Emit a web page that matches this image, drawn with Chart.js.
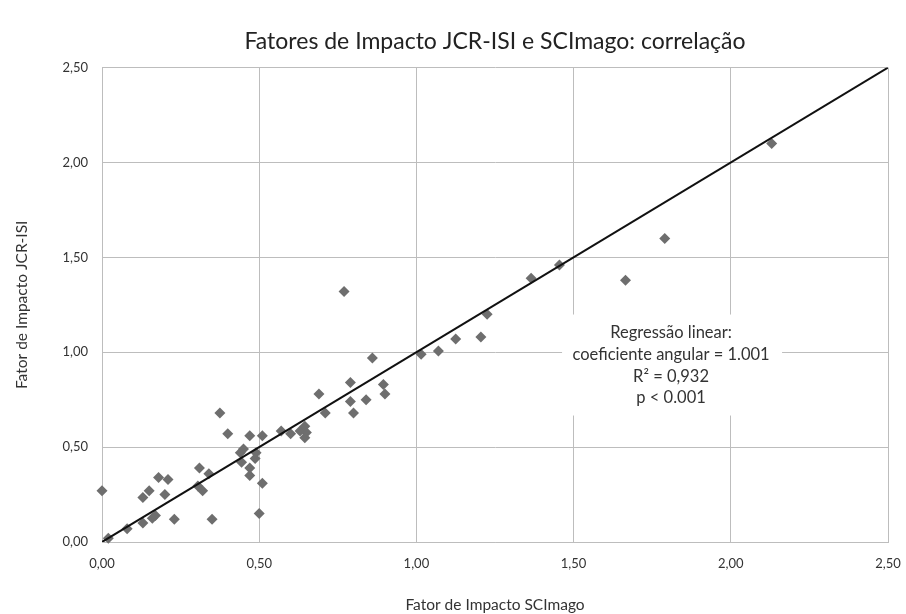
<!DOCTYPE html>
<html>
<head>
<meta charset="utf-8">
<title>Fatores de Impacto JCR-ISI e SCImago: correlação</title>
<script src="https://cdn.jsdelivr.net/npm/chart.js"></script>
<style>
  html, body { margin: 0; padding: 0; background: #fff; }
  canvas { display: block; }
</style>
</head>
<body>
<canvas id="chart" width="906" height="614"></canvas>
<script>
// SCImago impact factor (x) and JCR-ISI impact factor (y)
const scimago = [
  0.00, 0.02, 0.08, 0.13, 0.13, 0.15, 0.16, 0.17, 0.18, 0.20,
  0.21, 0.23, 0.31, 0.34, 0.305, 0.32, 0.35, 0.375, 0.40, 0.44,
  0.45, 0.444, 0.47, 0.47, 0.47, 0.487, 0.49, 0.50, 0.51, 0.51,
  0.57, 0.60, 0.63, 0.645, 0.65, 0.645, 0.69, 0.71, 0.77, 0.79,
  0.79, 0.80, 0.84, 0.86, 0.895, 0.90, 1.015, 1.07, 1.125, 1.205,
  1.225, 1.365, 1.455, 1.665, 1.79, 2.13,
];
const jcrIsi = [
  0.27, 0.02, 0.07, 0.10, 0.235, 0.27, 0.125, 0.14, 0.34, 0.25,
  0.33, 0.12, 0.39, 0.36, 0.295, 0.27, 0.12, 0.68, 0.57, 0.47,
  0.49, 0.42, 0.56, 0.39, 0.35, 0.44, 0.47, 0.15, 0.31, 0.56,
  0.585, 0.57, 0.585, 0.61, 0.577, 0.55, 0.78, 0.68, 1.32, 0.84,
  0.74, 0.68, 0.75, 0.97, 0.83, 0.78, 0.99, 1.006, 1.07, 1.08,
  1.20, 1.39, 1.46, 1.38, 1.60, 2.10,
];

// fitted regression line end points
const fitX = [0, 2.5];
const fitY = [0, 2.5];

const tickValues = [0, 0.5, 1.0, 1.5, 2.0, 2.5];

const annotationLines = [
  'Regressão linear:',
  'coeficiente angular = 1.001',
  'R² = 0,932',
  'p < 0.001',
];
// where the note sits, in data units
const noteX = 1.81;
const noteY = 0.93;

const FONT = 'Lato, "Open Sans", sans-serif';

const points = scimago.map((x, i) => ({ x, y: jcrIsi[i] }));
const fitLine = fitX.map((x, i) => ({ x, y: fitY[i] }));

const fmt = (v) => v.toFixed(2).replace('.', ',');

const notePlugin = {
  id: 'note',
  beforeDatasetsDraw(chart) {
    const { ctx, scales } = chart;
    const cx = scales.x.getPixelForValue(noteX);
    const cy = scales.y.getPixelForValue(noteY);
    const lineH = 21.7;
    ctx.save();
    ctx.fillStyle = '#fff';
    ctx.fillRect(cx - 109, cy - 51, 220, 101);
    ctx.fillStyle = '#333';
    ctx.font = `16.5px ${FONT}`;
    ctx.textAlign = 'center';
    ctx.textBaseline = 'middle';
    const top = cy - (lineH * (annotationLines.length - 1)) / 2;
    annotationLines.forEach((t, i) => ctx.fillText(t, cx, top + i * lineH));
    ctx.restore();
  },
};

new Chart(document.getElementById('chart'), {
  type: 'scatter',
  data: {
    datasets: [
      {
        label: 'Regressão linear',
        data: fitLine,
        showLine: true,
        borderColor: '#111',
        borderWidth: 2,
        pointRadius: 0,
        order: 0,
      },
      {
        label: 'Periódicos',
        data: points,
        pointStyle: 'rectRot',
        pointRadius: 5.5,
        backgroundColor: '#6e6e6e',
        borderColor: '#6e6e6e',
        borderWidth: 0,
        clip: false,
        order: 1,
      },
    ],
  },
  options: {
    responsive: false,
    animation: false,
    layout: { padding: { left: 0, right: 18, top: 0, bottom: 0 } },
    plugins: {
      legend: { display: false },
      tooltip: { enabled: false },
      title: {
        display: true,
        fullSize: false,
        text: 'Fatores de Impacto JCR-ISI e SCImago: correlação',
        color: '#222',
        font: { family: FONT, size: 23, weight: 'normal' },
        padding: { top: 28, bottom: 12 },
      },
    },
    scales: {
      x: {
        type: 'linear',
        min: 0,
        max: 2.5,
        afterBuildTicks(scale) { scale.ticks = tickValues.map((value) => ({ value })); },
        afterFit(scale) {
          scale.height = 72;
          scale.paddingLeft = 0;
          scale.paddingRight = 0;
        },
        grid: { color: '#bdbdbd', drawTicks: false },
        border: { color: '#bdbdbd' },
        ticks: {
          padding: 14,
          color: '#333',
          font: { family: FONT, size: 13 },
          callback: (v) => fmt(v),
        },
        title: {
          display: true,
          text: 'Fator de Impacto SCImago',
          color: '#333',
          font: { family: FONT, size: 15.5 },
          padding: { top: 0, bottom: 0 },
        },
      },
      y: {
        type: 'linear',
        min: 0,
        max: 2.5,
        afterBuildTicks(scale) { scale.ticks = tickValues.map((value) => ({ value })); },
        afterFit(scale) { scale.width = 102; },
        grid: { color: '#bdbdbd', drawTicks: false },
        border: { color: '#bdbdbd' },
        ticks: {
          padding: 14,
          color: '#333',
          font: { family: FONT, size: 13 },
          callback: (v) => fmt(v),
        },
        title: {
          display: true,
          text: 'Fator de Impacto JCR-ISI',
          color: '#333',
          font: { family: FONT, size: 15.5 },
          padding: { top: 13, bottom: 0 },
        },
      },
    },
  },
  plugins: [notePlugin],
});
</script>
</body>
</html>
